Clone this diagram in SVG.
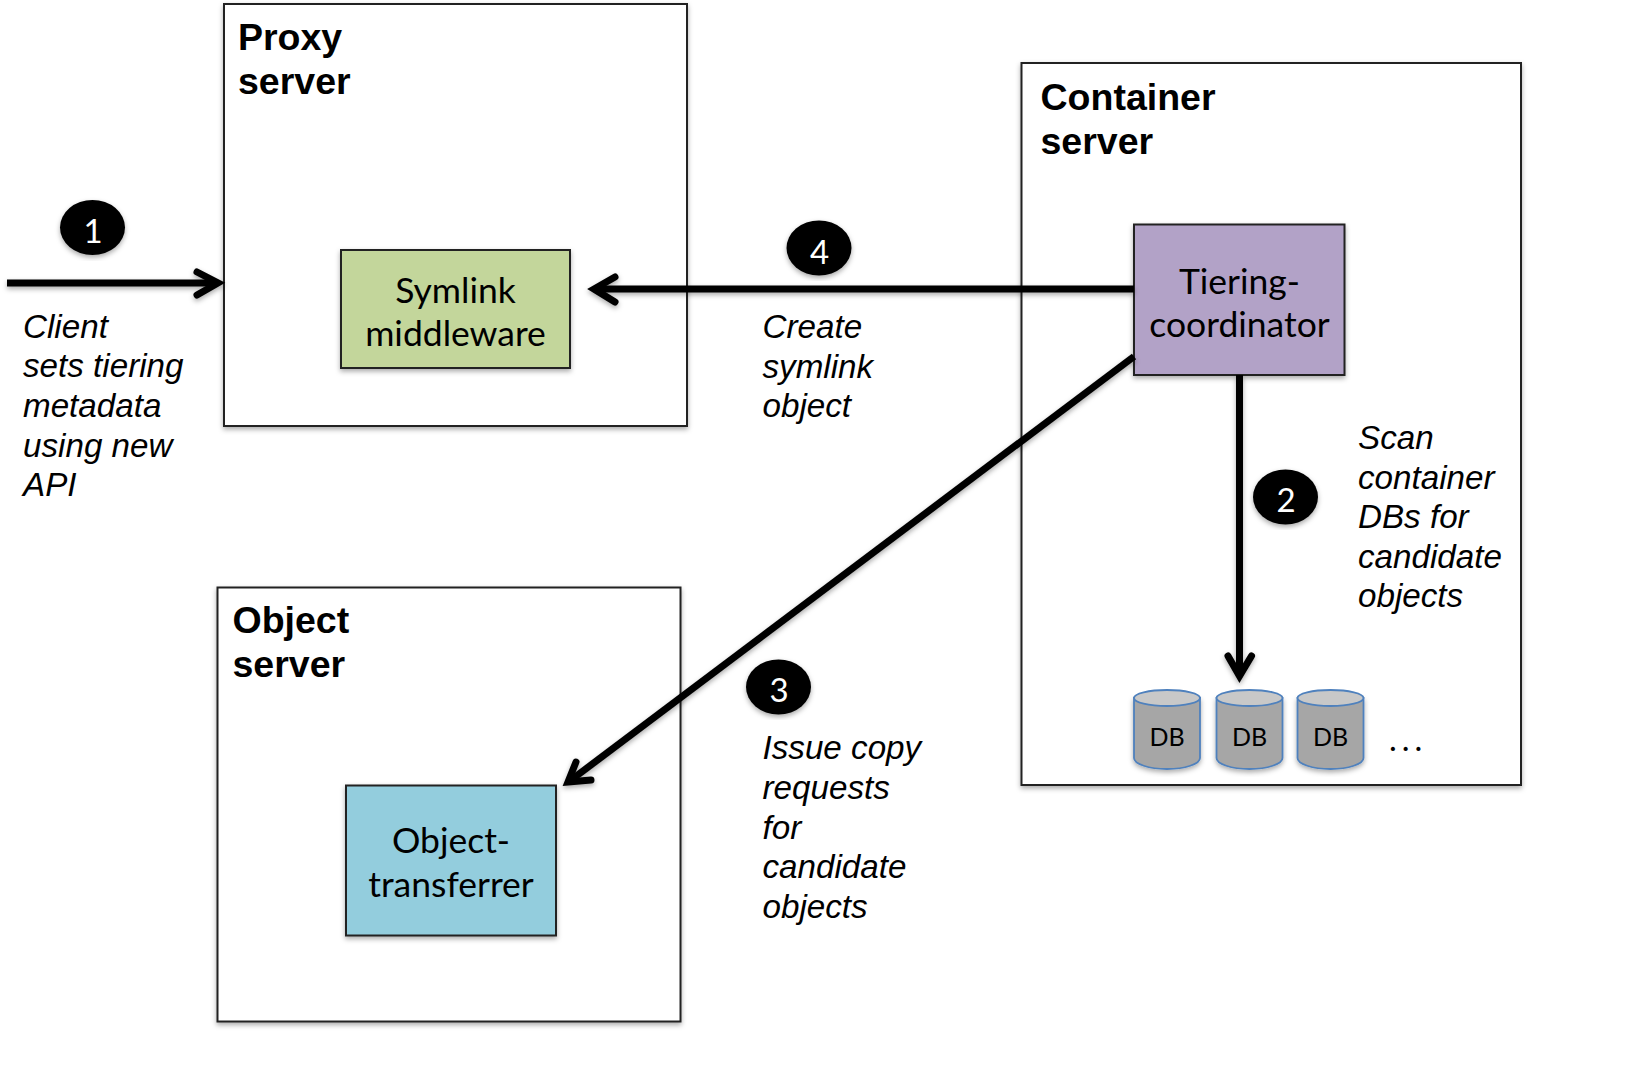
<svg xmlns="http://www.w3.org/2000/svg" width="1639" height="1078" viewBox="0 0 1639 1078">
<style>
text{font-family:"Lato","Liberation Sans",sans-serif;fill:#000}
.server{fill:#fff;stroke:#222;stroke-width:2;filter:url(#sh)}
.inner{stroke:#222;stroke-width:2;filter:url(#sh)}
.title{font-family:"Liberation Sans",Arial,sans-serif;font-weight:700;font-size:37.5px}
.label{font-size:35.5px;text-anchor:middle}
.note{font-family:"Liberation Sans",Arial,sans-serif;font-style:italic;font-size:33.2px}
.badge{fill:#000;filter:url(#sh)}
.num{fill:#fff;font-size:33px;text-anchor:middle}
.shaft{fill:none;stroke:#000;stroke-width:7}
.head{fill:none;stroke:#000;stroke-width:7;stroke-linecap:round;stroke-linejoin:miter}
.dbbody{fill:#a6a6a6;stroke:#4f81bd;stroke-width:1.8}
.dbtop{fill:#c8c8c8;stroke:#4f81bd;stroke-width:1.8}
.dbtext{font-size:25px;text-anchor:middle}
</style>
<defs>
<filter id="sh" x="-10%" y="-10%" width="120%" height="120%">
<feDropShadow dx="0" dy="2.5" stdDeviation="2.5" flood-color="#000" flood-opacity="0.33"/>
</filter>
</defs>
<rect width="1639" height="1078" fill="#fff"/>
<g id="proxy-server">
<rect class="server" x="224" y="4" width="463" height="422"/>
<text class="title" x="238" y="50">Proxy</text>
<text class="title" x="238" y="94">server</text>
</g>
<g id="container-server">
<rect class="server" x="1021.500" y="63" width="499.500" height="722"/>
<text class="title" x="1040.500" y="109.500">Container</text>
<text class="title" x="1040.500" y="153.500">server</text>
</g>
<g id="object-server">
<rect class="server" x="217.500" y="587.500" width="463" height="434"/>
<text class="title" x="232.500" y="632.500">Object</text>
<text class="title" x="232.500" y="677">server</text>
</g>
<g id="symlink-middleware">
<rect class="inner" x="341" y="250" width="229" height="118" fill="#c3d69b"/>
<text class="label" x="455.500" y="302.500">Symlink</text>
<text class="label" x="455.500" y="346">middleware</text>
</g>
<g id="tiering-coordinator">
<rect class="inner" x="1134" y="224.500" width="210.500" height="150.500" fill="#b2a2c7"/>
<text class="label" x="1239.500" y="293.500">Tiering-</text>
<text class="label" x="1239.500" y="337">coordinator</text>
</g>
<g id="object-transferrer">
<rect class="inner" x="346" y="785.500" width="210" height="150" fill="#93cddd"/>
<text class="label" x="451" y="853">Object-</text>
<text class="label" x="451" y="896.500">transferrer</text>
</g>
<g id="db1">
<path class="dbbody" d="M1134 698V758C1134 764 1149 769 1167 769S1200 764 1200 758V698Z" filter="url(#sh)"/>
<ellipse class="dbtop" cx="1167" cy="698" rx="33" ry="8"/>
<text class="dbtext" x="1167" y="746">DB</text>
</g>
<g id="db2">
<path class="dbbody" d="M1216.500 698V758C1216.500 764 1231.500 769 1249.500 769S1282.500 764 1282.500 758V698Z" filter="url(#sh)"/>
<ellipse class="dbtop" cx="1249.500" cy="698" rx="33" ry="8"/>
<text class="dbtext" x="1249.500" y="746">DB</text>
</g>
<g id="db3">
<path class="dbbody" d="M1297.500 698V758C1297.500 764 1312.500 769 1330.500 769S1363.500 764 1363.500 758V698Z" filter="url(#sh)"/>
<ellipse class="dbtop" cx="1330.500" cy="698" rx="33" ry="8"/>
<text class="dbtext" x="1330.500" y="746">DB</text>
</g>
<text id="more" x="1389" y="751" font-size="33" letter-spacing="5">...</text>
<g id="connectors" filter="url(#sh)">
<path class="shaft" d="M7 283H217"/>
<path class="head" d="M197 272L218 283L197 295"/>
<path class="shaft" d="M1134 289H596"/>
<path class="head" d="M615 277L594 289L615 302"/>
<path class="shaft" d="M1239.500 375V673"/>
<path class="head" d="M1228 656L1239.500 676L1251.500 656"/>
<path class="shaft" d="M1134 356.500L571 780"/>
<path class="head" d="M576 762L568 782L591 780"/>
</g>
<g id="step1"><ellipse class="badge" cx="92.500" cy="227.500" rx="32.500" ry="27.500"/><text class="num" x="93" y="243">1</text></g>
<g id="step2"><ellipse class="badge" cx="1285.500" cy="497" rx="32.500" ry="27.500"/><text class="num" x="1286" y="512">2</text></g>
<g id="step3"><ellipse class="badge" cx="778.500" cy="687" rx="32.500" ry="27.500"/><text class="num" x="779" y="702">3</text></g>
<g id="step4"><ellipse class="badge" cx="819" cy="248" rx="32.500" ry="27.500"/><text class="num" x="819.500" y="264">4</text></g>
<g id="notes">
<text class="note" x="23" y="338">Client</text>
<text class="note" x="23" y="377">sets tiering</text>
<text class="note" x="23" y="417">metadata</text>
<text class="note" x="23" y="456.500">using new</text>
<text class="note" x="23" y="496">API</text>
<text class="note" x="762.500" y="338">Create</text>
<text class="note" x="762.500" y="378">symlink</text>
<text class="note" x="762.500" y="417">object</text>
<text class="note" x="1358" y="448.500">Scan</text>
<text class="note" x="1358" y="489">container</text>
<text class="note" x="1358" y="527.500">DBs for</text>
<text class="note" x="1358" y="567.500">candidate</text>
<text class="note" x="1358" y="606.500">objects</text>
<text class="note" x="762.500" y="759">Issue copy</text>
<text class="note" x="762.500" y="799">requests</text>
<text class="note" x="762.500" y="838.500">for</text>
<text class="note" x="762.500" y="878">candidate</text>
<text class="note" x="762.500" y="918">objects</text>
</g>
</svg>
